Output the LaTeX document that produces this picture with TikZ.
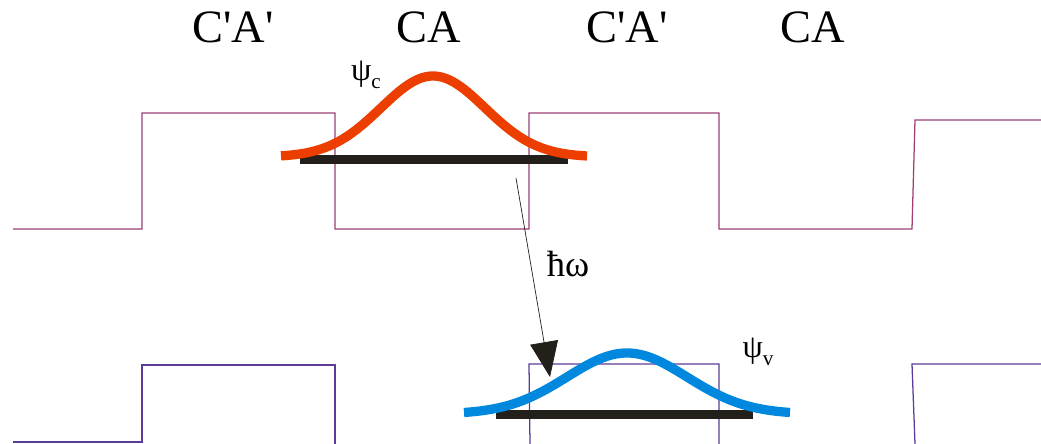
\documentclass[tikz,border=0pt]{standalone}
\usepackage{fontspec}
\setmainfont{Liberation Serif}
\usepackage{tikz}
\usetikzlibrary{arrows.meta}
\definecolor{cbandcol}{RGB}{155,65,115}
\definecolor{vbandcol}{RGB}{90,60,150}
\definecolor{psiccol}{RGB}{235,62,0}
\definecolor{psivcol}{RGB}{0,136,222}
\definecolor{levelcol}{RGB}{35,32,28}

\begin{document}
\begin{tikzpicture}[x=0.025cm, y=-0.025cm,
      cband/.style={draw=cbandcol, line width=0.9pt},
      vband/.style={draw=vbandcol, line width=0.9pt},
      level/.style={draw=levelcol, line width=6.4pt},
      wave/.style={line width=6.6pt, smooth, samples=90},
      region/.style={font=\fontsize{33}{36}\selectfont, anchor=base, inner sep=0pt},
      psilabel/.style={font=\fontsize{23}{26}\selectfont, inner sep=0pt},
      arrow/.style={-{Triangle[length=25pt,width=20pt]}, levelcol, line width=0.5pt}
    ]
      \useasboundingbox (0,0) rectangle (1041,444);

      % Regions
      \node[region] (ca1) at (233,43) {C\textquotesingle A\textquotesingle};
      \node[region] (cb1) at (429,43) {CA};
      \node[region] (ca2) at (627,43) {C\textquotesingle A\textquotesingle};
      \node[region] (cb2) at (813,43) {CA};

      % Conduction band
      \draw[cband] (13,229) -- (142,229) -- (142,113) -- (335,113) -- (335,229) -- (529,229)
        -- (529,113) -- (719,113) -- (719,229) -- (912,229) -- (915,120) -- (1041,120);

      % Valence band
      \draw[vband] (13,442) -- (142,442) -- (142,365) -- (335,365) -- (335,444);
      \draw[vband] (530,444) -- (529,364) -- (719,364) -- (719,444);
      \draw[vband] (915,444) -- (912,364) -- (1041,364);

      % Levels
      \draw[level] (300,160) -- (568,160);
      \draw[level] (496,415) -- (753,415);

      % Wave functions
      \draw[wave, psiccol] plot[domain=281:587] (\x, {157-81*exp(-0.5*((\x-433)/52)^2)});
      \draw[wave, psivcol] plot[domain=464:790] (\x, {414-61*exp(-0.5*((\x-627)/60)^2)});
      \node[psilabel] (psic) at (366,75) {ψ\raisebox{-0.25em}{\fontsize{15}{15}\selectfont c}};
      \node[psilabel] (psiv) at (758,352) {ψ\raisebox{-0.25em}{\fontsize{15}{15}\selectfont v}};

      % Transition
      \coordinate (emit) at (516,178);
      \coordinate (absorb) at (550,377);
      \draw[arrow] (emit) -- (absorb);
      \node[font=\fontsize{26}{30}\selectfont, inner sep=0pt] (hw) at (568,264) {ħω};
    \end{tikzpicture}
\end{document}
